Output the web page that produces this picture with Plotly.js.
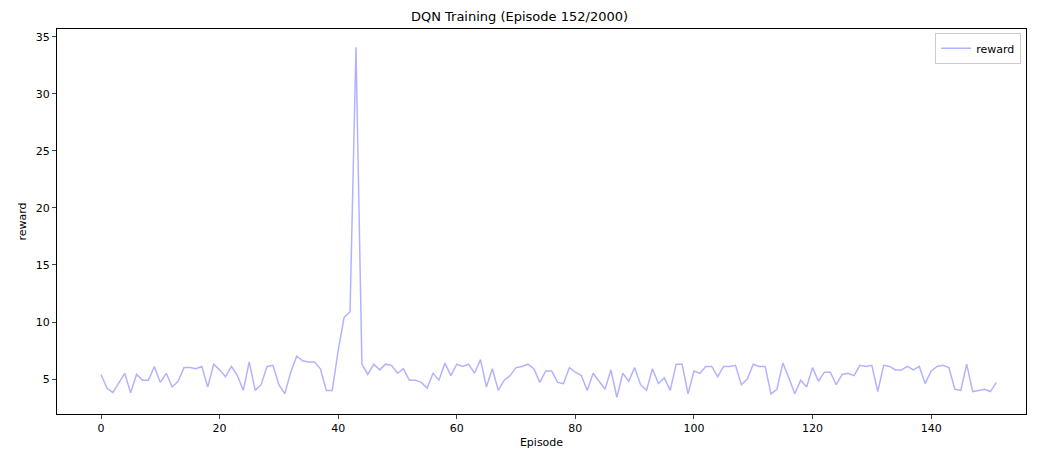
<!DOCTYPE html>
<html><head><script src="https://cdn.plot.ly/plotly-3.0.1.min.js"></script>
<style>body{margin:0;background:#fff}</style></head><body>
<div id="c" style="width:1039px;height:471px"></div>
<script>
const reward = [5.4,4.2,3.8,4.7,5.5,3.8,5.4,4.9,4.9,6.1,4.7,5.5,4.3,4.8,6.0,6.0,5.9,6.1,4.3,6.3,
5.8,5.2,6.1,5.3,4.0,6.5,4.0,4.5,6.1,6.2,4.5,3.7,5.6,7.0,6.6,6.5,6.5,5.9,4.0,4.0,
7.5,10.4,10.9,34.1,6.3,5.4,6.3,5.8,6.3,6.2,5.5,5.9,4.9,4.9,4.7,4.2,5.5,4.9,6.4,5.3,
6.3,6.1,6.3,5.5,6.7,4.3,5.9,4.0,4.9,5.3,6.0,6.1,6.3,5.9,4.7,5.7,5.7,4.7,4.6,6.0,
5.6,5.3,4.0,5.5,4.8,4.1,5.8,3.4,5.5,4.8,6.0,4.5,4.0,5.9,4.6,5.1,4.0,6.3,6.3,3.7,
5.7,5.5,6.1,6.1,5.2,6.1,6.1,6.2,4.5,5.0,6.3,6.1,6.1,3.7,4.1,6.4,5.1,3.7,4.9,4.3,
6.0,4.8,5.6,5.6,4.5,5.4,5.5,5.3,6.2,6.1,6.2,3.9,6.2,6.1,5.8,5.8,6.1,5.8,6.1,4.6,
5.7,6.1,6.2,6.0,4.1,4.0,6.3,3.9,4.0,4.1,3.9,4.7];
const episodes = reward.map((_, i) => i);
const f = {family:"DejaVu Sans", size:11, color:"#000"};
Plotly.newPlot("c", [{x:episodes, y:reward, type:"scatter", mode:"lines", name:"reward",
  line:{color:"rgba(0,0,255,0.3)", width:1.5}}], {
  width:1039, height:471, margin:{l:57,r:13,t:29,b:57},
  paper_bgcolor:"#fff", plot_bgcolor:"#fff", font:f,
  title:{text:"DQN Training (Episode 152/2000)", font:{family:"DejaVu Sans",size:13,color:"#000"}, x:0.5, xanchor:"center", y:0.975},
  xaxis:{range:[-7.42,156.0], tickvals:[0,20,40,60,80,100,120,140], showgrid:false, zeroline:false,
    showline:true, mirror:true, linecolor:"#000", linewidth:1, ticks:"outside", ticklen:4,
    title:{text:"Episode", font:f, standoff:4}},
  yaxis:{range:[1.93,35.7], tickvals:[5,10,15,20,25,30,35], showgrid:false, zeroline:false,
    showline:true, mirror:true, linecolor:"#000", linewidth:1, ticks:"outside", ticklen:4,
    title:{text:"reward", font:f, standoff:6}},
  showlegend:true,
  legend:{x:0.995, y:0.99, xanchor:"right", yanchor:"top", bgcolor:"rgba(255,255,255,0.8)", bordercolor:"#ccc", borderwidth:1, font:f}
}, {displayModeBar:false, staticPlot:true});
</script></body></html>
